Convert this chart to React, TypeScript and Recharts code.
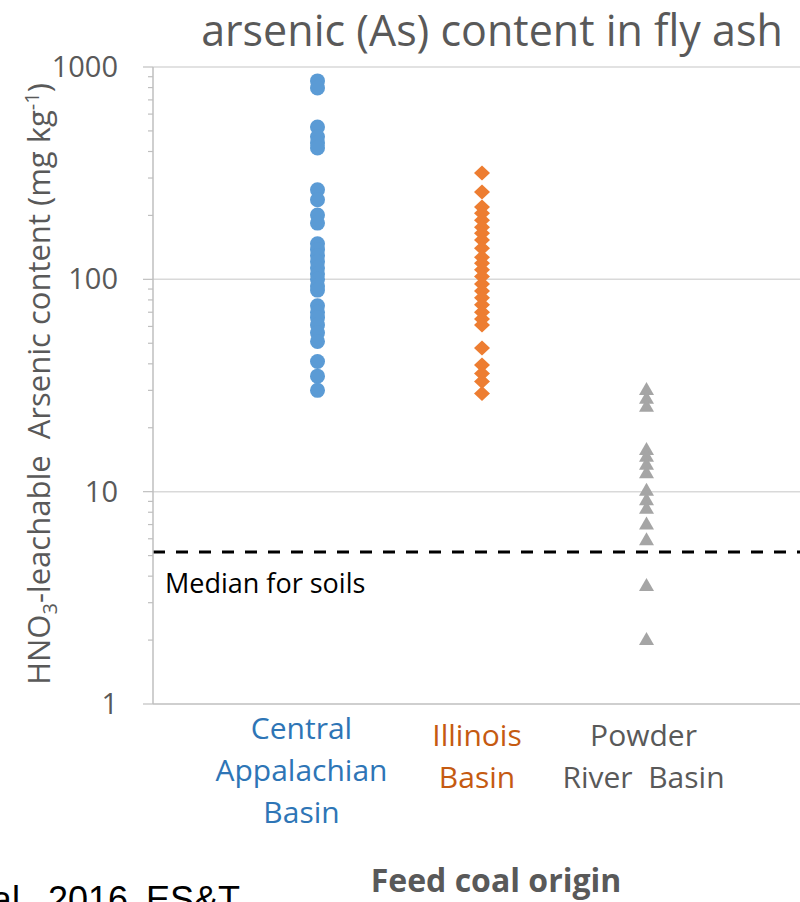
import { ScatterChart, Scatter, XAxis, YAxis, ReferenceLine } from "recharts";

// Feed coal regions, one label line per entry
const categories = [
  ["Central", "Appalachian", "Basin"],
  ["Illinois", "Basin"],
  ["Powder", "River  Basin"],
];

// HNO3-leachable As, mg/kg
const centralAppalachian = [
  860, 797, 522, 469, 439, 416, 264, 237, 201, 184, 147, 138, 129, 121, 113, 106,
  100, 93, 89, 75, 70, 66, 61, 56, 51, 41, 35, 30,
];
const illinois = [
  317, 258, 219, 205, 190, 176, 165, 153, 140, 127, 119, 111, 103, 95, 88, 82, 76,
  70, 65, 61, 47.5, 39.5, 36, 33, 29,
];
const powderRiver = [30.1, 27.4, 25.1, 15.7, 14.6, 13.4, 12.2, 10.1, 9.1, 8.3, 7.0, 5.9, 3.6, 2.0];

const soilMedian = 5.2;

const majorTicks = [1, 10, 100, 1000];
const minorTicks = [2, 3, 4, 5, 6, 7, 8, 9, 20, 30, 40, 50, 60, 70, 80, 90, 200, 300, 400, 500, 600, 700, 800, 900];

const categoryColors = ["#2e75b6", "#c55a11", "#595959"];
const FONT = "'Open Sans', sans-serif";
const GRID = "#d9d9d9";
const AXIS = "#bfbfbf";

const yTicks = [...majorTicks, ...minorTicks].sort((a, b) => a - b);
const toPoints = (vals: number[], x: number) => vals.map((y) => ({ x, y }));

const LogTick = (props: any) => {
  const { x, y, payload } = props;
  const major = majorTicks.includes(payload.value);
  return (
    <g>
      <line x1={x - (major ? 10 : 5)} x2={x} y1={y} y2={y} stroke={AXIS} strokeWidth={1.2} />
      {major && (
        <text x={x - 35} y={y} dy="0.35em" textAnchor="end" fontFamily={FONT} fontSize={29} fill="#595959">
          {payload.value}
        </text>
      )}
    </g>
  );
};

const labelShift = [-16, -5, -3];

const CategoryTick = (props: any) => {
  const { x, y, payload } = props;
  const i = payload.value - 1;
  const lines = categories[i];
  if (!lines) return null;
  const top = lines.length === 3 ? 35 : 42;
  return (
    <text textAnchor="middle" fontFamily={FONT} fontSize={30} fill={categoryColors[i]} style={{ whiteSpace: "pre" }}>
      {lines.map((t, k) => (
        <tspan key={k} x={x + labelShift[i]} y={y + top + k * 42}>
          {t}
        </tspan>
      ))}
    </text>
  );
};

const MedianLabel = (props: any) => {
  const vb = props.viewBox || {};
  return (
    <text x={vb.x + 12} y={vb.y + 41} fontFamily={FONT} fontSize={27} fill="#000">
      Median for soils
    </text>
  );
};

const Dot = (p: any) => <circle cx={p.cx} cy={p.cy} r={7.5} fill="#5b9bd5" />;
const Diamond = (p: any) => (
  <path
    d={`M${p.cx},${p.cy - 7.5}L${p.cx + 8},${p.cy}L${p.cx},${p.cy + 7.5}L${p.cx - 8},${p.cy}Z`}
    fill="#ed7d31"
  />
);
const Triangle = (p: any) => (
  <path
    d={`M${p.cx},${p.cy - 8}L${p.cx + 7.5},${p.cy + 5}L${p.cx - 7.5},${p.cy + 5}Z`}
    fill="#a5a5a5"
  />
);

export default function App() {
  return (
    <div
      style={{
        position: "fixed",
        left: 0,
        top: 0,
        width: 800,
        height: 902,
        overflow: "hidden",
        background: "#fff",
      }}
    >
      <ScatterChart width={820} height={902} margin={{ top: 67, right: 9, left: 0, bottom: 68 }}>
        <XAxis
          type="number"
          dataKey="x"
          domain={[0, 4]}
          ticks={[1, 2, 3]}
          interval={0}
          height={130}
          axisLine={{ stroke: AXIS, strokeWidth: 1.5 }}
          tickLine={false}
          tickSize={0}
          tickMargin={0}
          tick={<CategoryTick />}
        />
        <YAxis
          type="number"
          dataKey="y"
          scale="log"
          domain={[1, 1000]}
          allowDataOverflow
          ticks={yTicks}
          interval={0}
          width={153}
          axisLine={{ stroke: AXIS, strokeWidth: 1.5 }}
          tickLine={false}
          tickSize={0}
          tickMargin={0}
          tick={<LogTick />}
        />
        {majorTicks.slice(1).map((v) => (
          <ReferenceLine key={v} y={v} stroke={GRID} strokeWidth={1.5} />
        ))}
        <ReferenceLine
          y={soilMedian}
          stroke="#000"
          strokeWidth={3}
          strokeDasharray="12 11"
          label={<MedianLabel />}
        />
        <Scatter data={toPoints(centralAppalachian, 1)} shape={Dot} isAnimationActive={false} />
        <Scatter data={toPoints(illinois, 2)} shape={Diamond} isAnimationActive={false} />
        <Scatter data={toPoints(powderRiver, 3)} shape={Triangle} isAnimationActive={false} />
      </ScatterChart>
      <svg
        width={800}
        height={902}
        style={{ position: "absolute", left: 0, top: 0, pointerEvents: "none" }}
      >
        <text x={492} y={46} textAnchor="middle" fontFamily={FONT} fontSize={43} fill="#595959">
          arsenic (As) content in fly ash
        </text>
        <text
          transform="translate(50,384) rotate(-90)"
          textAnchor="middle"
          fontFamily={FONT}
          fontSize={31}
          fill="#595959"
          style={{ whiteSpace: "pre" }}
        >
          HNO
          <tspan dy={7} fontSize={20}>3</tspan>
          <tspan dy={-7}>-leachable  Arsenic content (mg kg</tspan>
          <tspan dy={-11} fontSize={20}>-1</tspan>
          <tspan dy={11}>)</tspan>
        </text>
        <text x={496} y={892} textAnchor="middle" fontFamily={FONT} fontSize={32} fontWeight="bold" fill="#595959">
          Feed coal origin
        </text>
        <text
          x={240}
          y={912}
          textAnchor="end"
          fontFamily="'Liberation Sans', sans-serif"
          fontSize={36}
          wordSpacing={8}
          fill="#000"
        >
          et al. 2016 ES&amp;T
        </text>
      </svg>
    </div>
  );
}
